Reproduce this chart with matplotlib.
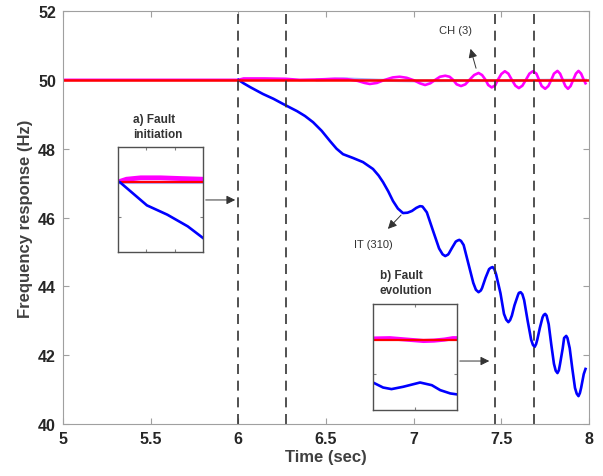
import numpy as np
import matplotlib.pyplot as plt

plt.rcParams['font.family'] = ['Liberation Sans', 'DejaVu Sans']

# main traces
t_ch = [5.00, 6.00, 6.03, 6.15, 6.27, 6.35, 6.45, 6.55, 6.62, 6.68, 6.72, 6.75, 6.79,
        6.83, 6.88, 6.92, 6.96, 7.00, 7.035, 7.065, 7.095, 7.12, 7.15, 7.18, 7.205,
        7.225, 7.245, 7.27, 7.295, 7.32, 7.345, 7.37, 7.39, 7.41, 7.425, 7.445, 7.465,
        7.48, 7.50, 7.52, 7.54, 7.56, 7.58, 7.60, 7.62, 7.64, 7.66, 7.68, 7.70, 7.715,
        7.73, 7.75, 7.768, 7.785, 7.80, 7.82, 7.835, 7.85, 7.865, 7.88, 7.895, 7.91,
        7.925, 7.94, 7.955, 7.97, 7.98]
f_ch = [50.00, 50.00, 50.04, 50.04, 50.03, 50.00, 50.01, 50.03, 50.02, 49.97, 49.91,
        49.88, 49.91, 49.99, 50.07, 50.09, 50.06, 49.99, 49.90, 49.85, 49.90, 49.99,
        50.09, 50.12, 50.09, 50.00, 49.87, 49.82, 49.87, 50.01, 50.14, 50.20, 50.14,
        50.00, 49.85, 49.78, 49.84, 50.00, 50.17, 50.25, 50.18, 50.00, 49.83, 49.76,
        49.83, 50.00, 50.18, 50.25, 50.18, 50.00, 49.82, 49.74, 49.82, 50.00, 50.18,
        50.26, 50.18, 50.00, 49.82, 49.74, 49.82, 50.00, 50.18, 50.26, 50.18, 50.00,
        49.90]

t_it = [6.000, 6.030, 6.067, 6.14, 6.20, 6.255, 6.335, 6.38, 6.426, 6.475, 6.523, 6.56,
        6.597, 6.654, 6.711, 6.768, 6.80, 6.825, 6.855, 6.882, 6.91, 6.939, 6.965, 6.99,
        7.015, 7.036, 7.05, 7.075, 7.11, 7.145, 7.165, 7.18, 7.195, 7.20, 7.22, 7.24,
        7.25, 7.26, 7.27, 7.285, 7.31, 7.34, 7.355, 7.37, 7.383, 7.39, 7.41, 7.43, 7.44,
        7.45, 7.46, 7.47, 7.495, 7.515, 7.528, 7.54, 7.55, 7.56, 7.575, 7.595, 7.60,
        7.61, 7.62, 7.63, 7.65, 7.67, 7.68, 7.69, 7.698, 7.705, 7.72, 7.735, 7.742,
        7.75, 7.758, 7.77, 7.785, 7.80, 7.81, 7.82, 7.828, 7.835, 7.85, 7.858, 7.87,
        7.877, 7.89, 7.905, 7.92, 7.93, 7.94, 7.948, 7.955, 7.97, 7.98]
f_it = [50.00, 49.90, 49.79, 49.59, 49.45, 49.30, 49.09, 48.95, 48.77, 48.52, 48.22,
        48.00, 47.84, 47.73, 47.61, 47.41, 47.22, 47.03, 46.76, 46.48, 46.26, 46.13,
        46.14, 46.19, 46.28, 46.33, 46.32, 46.15, 45.62, 45.10, 44.93, 44.88, 44.92,
        44.95, 45.13, 45.30, 45.33, 45.35, 45.32, 45.20, 44.70, 44.10, 43.90, 43.83,
        43.88, 43.95, 44.25, 44.50, 44.54, 44.56, 44.50, 44.35, 43.80, 43.20, 43.03,
        42.96, 43.02, 43.15, 43.45, 43.75, 43.81, 43.83, 43.77, 43.60, 43.00, 42.45,
        42.30, 42.24, 42.32, 42.45, 42.80, 43.10, 43.17, 43.20, 43.15, 42.90, 42.30,
        41.75, 41.55, 41.48, 41.56, 41.75, 42.20, 42.50, 42.56, 42.50, 42.20, 41.60,
        41.05, 40.88, 40.81, 40.90, 41.05, 41.45, 41.60]

t_ref = [5.0, 8.0]
f_ref = [50.0, 50.0]

t_faint = [6.45, 6.60, 6.80, 7.00, 7.20, 7.40, 7.60, 7.80, 7.98]
f_faint = [50.00, 50.03, 49.99, 49.97, 49.98, 49.98, 49.98, 49.99, 49.99]

fault_times = [6.0, 6.27, 7.465, 7.685]

# inset a) fault initiation
ta_it = [6.0, 6.0006, 6.0054, 6.0102, 6.0174, 6.0246, 6.03]
fa_it = [50.0, 50.0, 49.95, 49.90, 49.86, 49.81, 49.76]
ta_ch = [6.0, 6.003, 6.008, 6.015, 6.022, 6.03]
fa_ch = [50.0, 50.012, 50.018, 50.018, 50.015, 50.012]

# inset b) fault evolution
tb_it = [7.46, 7.4624, 7.4644, 7.4672, 7.4712, 7.474, 7.476, 7.4784, 7.48]
fb_it = [49.375, 49.302, 49.279, 49.313, 49.375, 49.336, 49.264, 49.216, 49.202]
tb_ch = [7.46, 7.464, 7.468, 7.472, 7.4745, 7.477, 7.479, 7.48]
fb_ch = [50.015, 50.02, 50.0, 49.98, 49.985, 50.0, 50.02, 50.02]

fig = plt.figure(figsize=(6.03, 4.77), dpi=100)
ax = fig.add_axes([0.1045, 0.109, 0.8723, 0.8658])

ax.plot(t_faint, f_faint, color='#8c8cff', lw=2.2, alpha=0.7)
ax.plot(t_ch, f_ch, color='#ff00ff', lw=1.9, solid_joinstyle='round')
ax.plot(t_it, f_it, color='#0000ff', lw=1.9, solid_joinstyle='round')
ax.plot(t_ref, f_ref, color='#ff0000', lw=1.8)
for ft in fault_times:
    ax.axvline(ft, color='#333333', lw=1.2, dashes=(6, 4))

ax.set_xlim(5, 8)
ax.set_ylim(40, 52)
ax.set_xticks(np.arange(5, 8.01, 0.5))
ax.set_xticklabels(['5', '5.5', '6', '6.5', '7', '7.5', '8'])
ax.set_yticks(np.arange(40, 52.1, 2))
ax.tick_params(direction='in', top=True, right=True, length=4, color='#a0a0a0',
               labelsize=11.5, labelcolor='#262626', pad=5)
for lab in ax.get_xticklabels() + ax.get_yticklabels():
    lab.set_fontweight('bold')
for sp in ax.spines.values():
    sp.set_color('#a0a0a0')
ax.set_xlabel('Time (sec)', fontsize=12, fontweight='bold', color='#404040', labelpad=2)
ax.set_ylabel('Frequency response (Hz)', fontsize=12, fontweight='bold', color='#404040',
              labelpad=4)

arrow_kw = dict(arrowstyle='-|>', color='#333333', lw=0.7, mutation_scale=13)
ax.annotate('', xy=(7.32, 50.98), xytext=(7.36, 50.26), arrowprops=arrow_kw)
ax.text(7.236, 51.45, 'CH (3)', fontsize=8, color='#333333', ha='center', va='center')
ax.annotate('', xy=(6.842, 45.61), xytext=(6.939, 46.13), arrowprops=arrow_kw)
ax.text(6.768, 45.23, 'IT (310)', fontsize=8, color='#333333', ha='center', va='center')
ax.annotate('', xy=(5.998, 46.51), xytext=(5.798, 46.51), arrowprops=arrow_kw)
ax.annotate('', xy=(7.447, 41.83), xytext=(7.247, 41.83), arrowprops=arrow_kw)

fig.text(0.2206, 0.704, 'a) Fault\ninitiation', fontsize=8.5, fontweight='bold',
         color='#333333', ha='left', va='bottom', linespacing=1.3)
fig.text(0.630, 0.377, 'b) Fault\nevolution', fontsize=8.5, fontweight='bold',
         color='#333333', ha='left', va='bottom', linespacing=1.3)


def style_inset(a):
    a.tick_params(direction='in', top=True, right=True, length=2, color='#808080',
                  labelbottom=False, labelleft=False)
    for sp in a.spines.values():
        sp.set_color('#505050')
        sp.set_linewidth(1.0)


ia = fig.add_axes([0.1957, 0.4696, 0.141, 0.220])
ia.plot(ta_ch, fa_ch, color='#ff00ff', lw=3.5)
ia.plot([6.0, 6.03], [49.995, 49.995], color='#b0b0ff', lw=1.5)
ia.plot([6.0, 6.03], [50.0, 50.0], color='#ff0000', lw=1.6)
ia.plot(ta_it, fa_it, color='#0000ff', lw=1.9)
ia.set_xlim(6.0, 6.03)
ia.set_ylim(49.7, 50.15)
ia.set_xticks([6.01, 6.02])
ia.set_yticks([49.85, 50.0])
style_inset(ia)

ib = fig.add_axes([0.6186, 0.1384, 0.1393, 0.2222])
ib.plot(tb_ch, fb_ch, color='#ff00ff', lw=3.0)
ib.plot([7.46, 7.48], [50.0, 50.0], color='#ff0000', lw=1.6)
ib.plot(tb_it, fb_it, color='#0000ff', lw=1.9)
ib.set_xlim(7.46, 7.48)
ib.set_ylim(48.975, 50.518)
ib.set_xticks([7.47])
ib.set_yticks([49.5])
style_inset(ib)

fig.savefig('out.png', dpi=100)
